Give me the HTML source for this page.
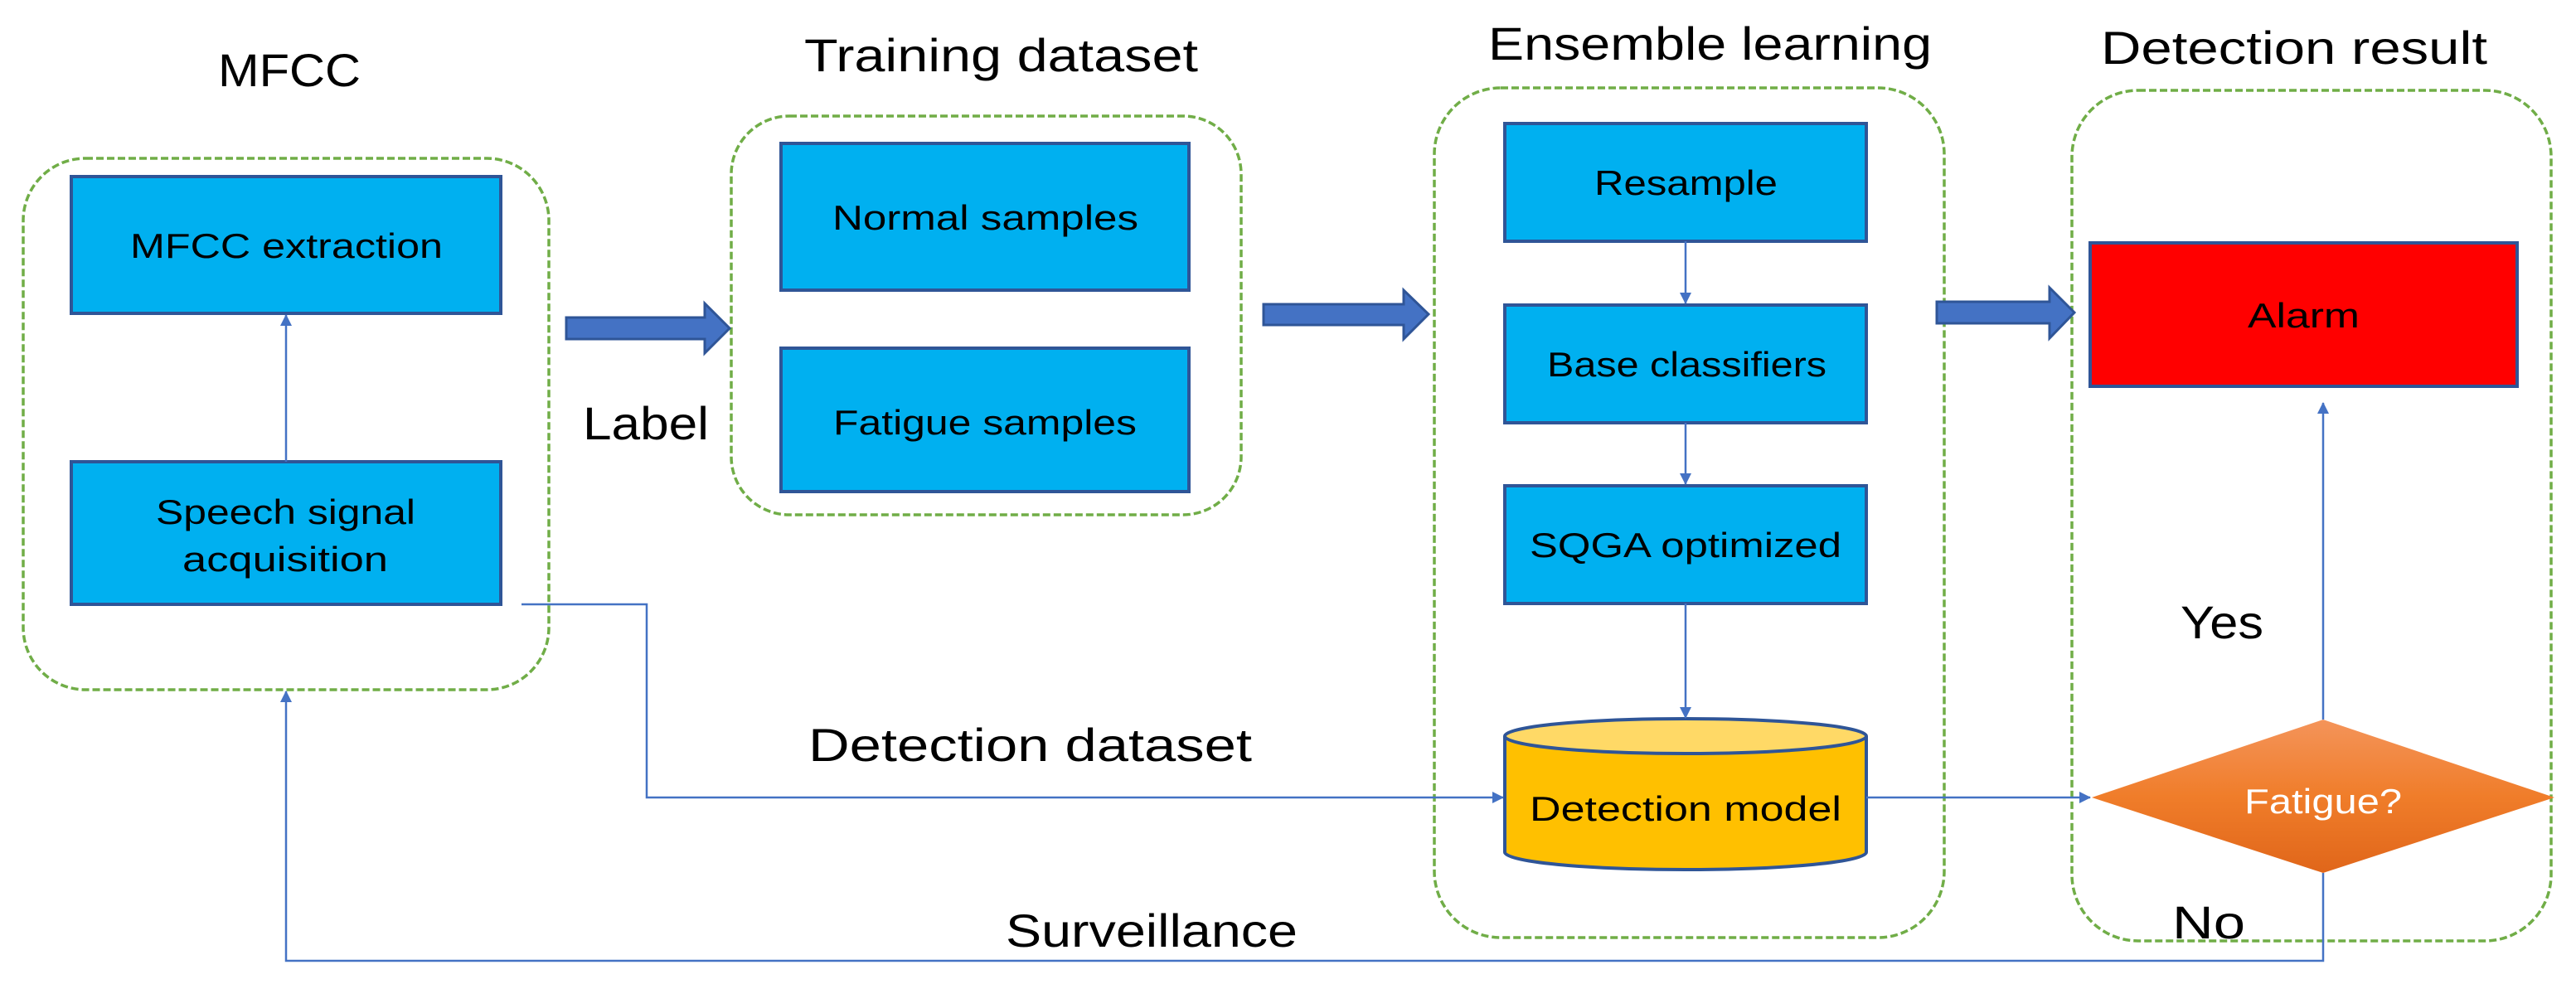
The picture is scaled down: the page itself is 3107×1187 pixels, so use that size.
<!DOCTYPE html>
<html><head><meta charset="utf-8"><style>html,body{margin:0;padding:0;background:#fff;overflow:hidden}</style></head><body>
<svg width="3107" height="1187" viewBox="0 0 3107 1187" xmlns="http://www.w3.org/2000/svg" font-family="Liberation Sans, sans-serif" style="display:block">
<defs>
<marker id="ah" markerWidth="14" markerHeight="14" refX="13" refY="7" orient="auto" markerUnits="userSpaceOnUse"><path d="M0,0 L14,7 L0,14Z" fill="#4472c4"/></marker>
<linearGradient id="og" x1="0" y1="0" x2="0" y2="1"><stop offset="0" stop-color="#f4945a"/><stop offset="0.5" stop-color="#f07d2a"/><stop offset="1" stop-color="#e0661a"/></linearGradient>
</defs>
<g fill="none" stroke="#70ad47" stroke-width="3.5" stroke-dasharray="9,4">
<rect x="28" y="191" width="634" height="641" rx="75"/>
<rect x="882" y="140" width="615" height="481" rx="70"/>
<rect x="1730" y="106" width="615" height="1025" rx="80"/>
<rect x="2499" y="109" width="578" height="1026" rx="80"/>
</g>
<g fill="#00b0f0" stroke="#2f5597" stroke-width="4">
<rect x="86" y="213" width="518" height="165"/>
<rect x="86" y="557" width="518" height="172"/>
<rect x="942" y="173" width="492" height="177"/>
<rect x="942" y="420" width="492" height="173"/>
<rect x="1815" y="149" width="436" height="142"/>
<rect x="1815" y="368" width="436" height="142"/>
<rect x="1815" y="586" width="436" height="142"/>
</g>
<rect x="2521" y="293" width="515" height="173" fill="#ff0000" stroke="#2f5597" stroke-width="4"/>
<path d="M1815,888 L1815,1028 A218,21 0 0 0 2251,1028 L2251,888" fill="#ffc000" stroke="#2f5597" stroke-width="4"/>
<ellipse cx="2033" cy="888" rx="218" ry="21" fill="#ffd966" stroke="#2f5597" stroke-width="4"/>
<polygon points="2523,962 2802,868 3081,962 2802,1053" fill="url(#og)"/>
<g stroke="#4472c4" stroke-width="2.5" fill="none">
<line x1="345" y1="557" x2="345" y2="380" marker-end="url(#ah)"/>
<line x1="2033" y1="291" x2="2033" y2="366" marker-end="url(#ah)"/>
<line x1="2033" y1="510" x2="2033" y2="584" marker-end="url(#ah)"/>
<line x1="2033" y1="728" x2="2033" y2="866" marker-end="url(#ah)"/>
<polyline points="629,729 780,729 780,962 1813,962" marker-end="url(#ah)"/>
<line x1="2251" y1="962" x2="2521" y2="962" marker-end="url(#ah)"/>
<line x1="2802" y1="868" x2="2802" y2="486" marker-end="url(#ah)"/>
<polyline points="2802,1053 2802,1159 345,1159 345,834" marker-end="url(#ah)"/>
</g>
<g fill="#4472c4" stroke="#2f5597" stroke-width="3">
<polygon points="683,383 850,383 850,366 880,396 850,426 850,409 683,409"/>
<polygon points="1524,367 1693,367 1693,350 1723,379 1693,409 1693,392 1524,392"/>
<polygon points="2336,364 2472,364 2472,347 2502,377 2472,408 2472,390 2336,390"/>
</g>
<g font-size="56" fill="#000">
<text x="263" y="104" textLength="172" lengthAdjust="spacingAndGlyphs">MFCC</text>
<text x="970" y="86" textLength="475" lengthAdjust="spacingAndGlyphs">Training dataset</text>
<text x="1795" y="72" textLength="535" lengthAdjust="spacingAndGlyphs">Ensemble learning</text>
<text x="2534" y="77" textLength="466" lengthAdjust="spacingAndGlyphs">Detection result</text>
<text x="703" y="530" textLength="152" lengthAdjust="spacingAndGlyphs">Label</text>
<text x="975" y="918" textLength="535" lengthAdjust="spacingAndGlyphs">Detection  dataset</text>
<text x="1213" y="1142" textLength="352" lengthAdjust="spacingAndGlyphs">Surveillance</text>
<text x="2630" y="770" textLength="100" lengthAdjust="spacingAndGlyphs">Yes</text>
<text x="2620" y="1132" textLength="88" lengthAdjust="spacingAndGlyphs">No</text>
</g>
<g font-size="42" fill="#000">
<text x="157" y="311" textLength="377" lengthAdjust="spacingAndGlyphs">MFCC extraction</text>
<text x="188" y="632" textLength="313" lengthAdjust="spacingAndGlyphs">Speech signal</text>
<text x="220" y="689" textLength="248" lengthAdjust="spacingAndGlyphs">acquisition</text>
<text x="1004" y="277" textLength="369" lengthAdjust="spacingAndGlyphs">Normal samples</text>
<text x="1005" y="524" textLength="366" lengthAdjust="spacingAndGlyphs">Fatigue samples</text>
<text x="1923" y="235" textLength="221" lengthAdjust="spacingAndGlyphs">Resample</text>
<text x="1866" y="454" textLength="337" lengthAdjust="spacingAndGlyphs">Base classifiers</text>
<text x="1845" y="672" textLength="376" lengthAdjust="spacingAndGlyphs">SQGA optimized</text>
<text x="1845" y="990" textLength="376" lengthAdjust="spacingAndGlyphs">Detection model</text>
<text x="2711" y="395" textLength="135" lengthAdjust="spacingAndGlyphs">Alarm</text>
<text x="2707" y="981" textLength="190" lengthAdjust="spacingAndGlyphs" fill="#fff">Fatigue?</text>
</g>
</svg>
</body></html>
